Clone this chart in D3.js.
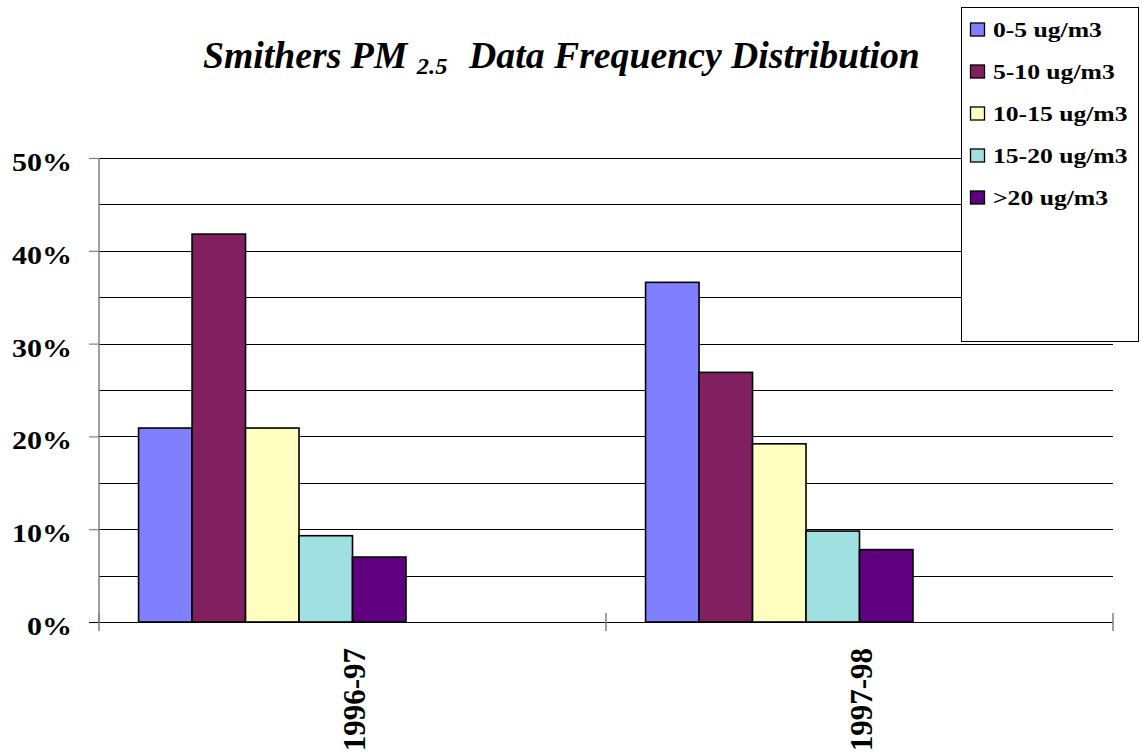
<!DOCTYPE html>
<html>
<head>
<meta charset="utf-8">
<script src="https://cdn.jsdelivr.net/npm/d3@7"></script>
<style>
  html, body { margin: 0; padding: 0; background: #fff; }
  svg { display: block; }
  svg text { font-family: "Times New Roman", "Liberation Serif", Tinos, serif; }
</style>
</head>
<body>
<svg id="chart" width="1142" height="754"></svg>
<script>
// Frequency distribution of PM2.5 readings by season
const categories = ["1996-97", "1997-98"];
const seriesNames = ["0-5 ug/m3", "5-10 ug/m3", "10-15 ug/m3", "15-20 ug/m3", ">20 ug/m3"];
const seriesColors = ["#8080FF", "#802060", "#FFFFC0", "#A0E0E0", "#600080"];
const values1996 = [20.9, 41.8, 20.9, 9.3, 7.0];
const values1997 = [36.6, 26.9, 19.2, 9.8, 7.8];
const yTicks = [0, 10, 20, 30, 40, 50];
const yMinorTicks = [5, 15, 25, 35, 45];
// the chart reserves eight series slots per category; only five carry data
const slotCount = 8;

const valuesByCategory = [values1996, values1997];

const svg = d3.select("#chart");
const plot = { left: 99, right: 1113, top: 158, bottom: 622 };

// stretch a text horizontally so it spans the wanted width, anchored at (ax, ay)
function stretchX(node, width, ax, ay) {
  const w = node.getBBox().width;
  const s = width / w;
  d3.select(node).attr("transform",
    `translate(${ax},${ay}) scale(${s},1) translate(${-ax},${-ay})`);
  return s;
}

const y = d3.scaleLinear().domain([0, 50]).range([plot.bottom, plot.top]);
const x0 = d3.scaleBand().domain(categories).range([plot.left, plot.right]).padding(0);
const x1 = d3.scaleBand().domain(d3.range(slotCount))
  .range([0, x0.bandwidth()]).paddingInner(0).paddingOuter(0.74).align(0.5);

// gridlines at every 5%
const gridVals = yTicks.concat(yMinorTicks).filter(v => v > 0);
svg.append("g").selectAll("line").data(gridVals).join("line")
  .attr("x1", plot.left).attr("x2", plot.right)
  .attr("y1", d => Math.round(y(d)) + 0.5).attr("y2", d => Math.round(y(d)) + 0.5)
  .attr("stroke", "#000").attr("stroke-width", 1);

// bars
const groups = svg.append("g").selectAll("g").data(categories).join("g")
  .attr("transform", d => `translate(${x0(d)},0)`);
groups.selectAll("rect")
  .data((d, i) => valuesByCategory[i].map((v, j) => ({ v, j })))
  .join("rect")
  .attr("x", d => x1(d.j))
  .attr("width", x1.bandwidth())
  .attr("y", d => y(d.v))
  .attr("height", d => y(0) - y(d.v))
  .attr("fill", d => seriesColors[d.j])
  .attr("stroke", "#000").attr("stroke-width", 1.6);

// y axis
const yAxis = d3.axisLeft(y).tickValues(yTicks).tickSize(10).tickPadding(17)
  .tickFormat(d => d + "%");
const gy = svg.append("g").attr("transform", `translate(${plot.left},0)`).call(yAxis);
gy.attr("font-family", null);
gy.select(".domain").attr("stroke", "#808080").attr("stroke-width", 1.5)
  .attr("d", `M0,${plot.top}V${plot.bottom}`);
gy.selectAll(".tick line").attr("stroke", "#808080").attr("stroke-width", 1.2);
const yLabels = gy.selectAll(".tick text")
  .attr("font-weight", "bold").attr("font-size", 26).attr("fill", "#000")
  .attr("dy", "0.48em");
const labelScale = 60 / gy.select(".tick:last-of-type text").node().getBBox().width;
yLabels.attr("transform", `translate(-27,0) scale(${labelScale},1) translate(27,0)`);

// x axis baseline with category boundary ticks
svg.append("line")
  .attr("x1", plot.left - 10).attr("x2", plot.right)
  .attr("y1", plot.bottom + 0.5).attr("y2", plot.bottom + 0.5)
  .attr("stroke", "#000").attr("stroke-width", 1.2);
const boundaries = categories.map(c => x0(c)).concat([x0(categories[categories.length - 1]) + x0.bandwidth()]);
svg.append("g").selectAll("line").data(boundaries).join("line")
  .attr("x1", d => d).attr("x2", d => d)
  .attr("y1", plot.bottom - 9).attr("y2", plot.bottom + 9)
  .attr("stroke", "#808080").attr("stroke-width", 1.5);

// rotated category labels
svg.append("g").selectAll("text").data(categories).join("text")
  .attr("transform", d => `translate(${x0(d) + x0.bandwidth() / 2 + 12},${plot.bottom + 26}) rotate(-90)`)
  .attr("text-anchor", "end")
  .attr("font-weight", "bold").attr("font-size", 31)
  .text(d => d);

// title with subscript
const title = svg.append("text")
  .attr("x", 203).attr("y", 68).attr("text-anchor", "start")
  .attr("font-weight", "bold").attr("font-style", "italic").attr("font-size", 37);
title.append("tspan").text("Smithers PM ");
title.append("tspan").attr("font-size", 24).attr("dy", 6).text("2.5");
title.append("tspan").attr("dy", -6).attr("dx", 12).text(" Data Frequency Distribution");
stretchX(title.node(), 717, 203, 68);

// legend
const legend = svg.append("g");
legend.append("rect")
  .attr("x", 961.5).attr("y", 7.5).attr("width", 177).attr("height", 334)
  .attr("fill", "#fff").attr("stroke", "#000").attr("stroke-width", 1);
const items = legend.selectAll("g.item").data(seriesNames).join("g")
  .attr("class", "item")
  .attr("transform", (d, i) => `translate(970,${29.5 + i * 42})`);
items.append("rect")
  .attr("x", 0.5).attr("y", -6.5).attr("width", 14).attr("height", 13)
  .attr("fill", (d, i) => seriesColors[i]).attr("stroke", "#000").attr("stroke-width", 1.3);
const legendTexts = items.append("text")
  .attr("x", 23).attr("y", 0).attr("dy", "0.36em")
  .attr("font-weight", "bold").attr("font-size", 22)
  .text(d => d);
const legendScale = 109 / legendTexts.node().getBBox().width;
legendTexts.attr("transform", `translate(23,0) scale(${legendScale},1) translate(-23,0)`);
</script>
</body>
</html>
